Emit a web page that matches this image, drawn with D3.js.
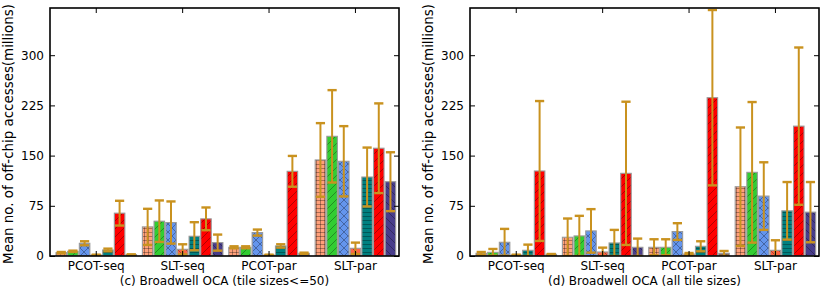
<!DOCTYPE html>
<html>
<head>
<meta charset="utf-8">
<script src="https://cdn.jsdelivr.net/npm/d3@7"></script>
<style>
  html, body { margin: 0; padding: 0; background: #fff; }
  svg { display: block; font-family: 'DejaVu Sans', sans-serif; }
</style>
</head>
<body>
<div id="chart"></div>
<script>
// groups on the x axis and the 7 bar series inside each group
const groups = ['PCOT-seq', 'SLT-seq', 'PCOT-par', 'SLT-par'];
const seriesColors = ['#FFA07A', '#32CD32', '#6495ED', '#FF6347', '#008080', '#FF0000', '#483D8B'];
const seriesHatch = ['+', '/', 'x', '\\', '-', '/', '\\'];
const yTicks = [0, 75, 150, 225, 300];

// (c) tile sizes <= 50 : mean and std per group (7 series each)
const meanC = [
  [5, 7, 19, 1.5, 9, 64, 2],
  [43.5, 52, 50, 10, 29.5, 55.5, 20],
  [13, 13, 35, 1.5, 15, 126.5, 4],
  [143.5, 178.8, 141.5, 11.5, 118, 161, 111],
];
const stdC = [
  [1, 1, 3, 0.5, 2, 18.5, 0.5],
  [27, 31, 31.5, 7.5, 21, 17, 12],
  [1.5, 1.5, 4.5, 0.5, 2.5, 23, 1],
  [55, 69, 52.5, 8.5, 44, 67, 44],
];

// (d) all tile sizes
const meanD = [
  [4, 5.5, 20.5, 1.5, 8.5, 127, 2.5],
  [28, 30, 37.5, 6, 19.5, 123.5, 13],
  [13, 13, 36.5, 3, 14.5, 236.5, 4],
  [103.5, 125, 89.5, 8.5, 67.5, 194, 65.5],
];
const stdD = [
  [2, 5, 20, 0.5, 8.5, 104.5, 0.5],
  [28, 30, 32.5, 6.5, 19.5, 107, 13],
  [12, 12, 12.5, 1.5, 7.5, 131, 3.5],
  [88.5, 105, 50.5, 15, 43, 117.5, 45],
];

const W = 820, H = 288;
const errColor = '#C9921F';

const svg = d3.select('#chart').append('svg')
  .attr('width', W).attr('height', H);

const defs = svg.append('defs');

// hatch patterns, one per series
const hatchPaths = {
  '/': { size: 8, d: 'M-2,2 l4,-4 M0,8 l8,-8 M6,10 l4,-4' },
  '\\': { size: 8, d: 'M-2,6 l4,4 M0,0 l8,8 M6,-2 l4,4' },
  'x': { size: 8, d: 'M-2,2 l4,-4 M0,8 l8,-8 M6,10 l4,-4 M-2,6 l4,4 M0,0 l8,8 M6,-2 l4,4' },
  '+': { size: 4, d: 'M0,0.5 H4 M0.5,0 V4' },
  '-': { size: 4, d: 'M0,0.5 H4' },
};
seriesColors.forEach((c, i) => {
  const h = hatchPaths[seriesHatch[i]];
  const p = defs.append('pattern')
    .attr('id', 'hatch' + i)
    .attr('patternUnits', 'userSpaceOnUse')
    .attr('width', h.size).attr('height', h.size);
  p.append('rect').attr('width', h.size).attr('height', h.size).attr('fill', c);
  p.append('path').attr('d', h.d)
    .attr('stroke', '#000').attr('stroke-opacity', 0.45)
    .attr('stroke-width', 0.7).attr('fill', 'none');
});

function panel(x0, means, stds, caption, idx) {
  const top = 8, bottom = 256, width = 349;

  const y = d3.scaleLinear().domain([0, 370.5]).range([bottom, top]);
  const x = d3.scaleBand().domain(groups)
    .range([x0 + 6, x0 + 6 + 3 * 86.4 + 80.5])
    .paddingInner(0.068).paddingOuter(0);
  const xs = d3.scaleBand().domain(d3.range(7))
    .range([0, x.bandwidth()]).paddingInner(0.1).paddingOuter(0);

  const g = svg.append('g');

  defs.append('clipPath').attr('id', 'clip' + idx)
    .append('rect').attr('x', x0).attr('y', top)
    .attr('width', width).attr('height', bottom - top);

  const plot = g.append('g').attr('clip-path', `url(#clip${idx})`);

  const rows = [];
  groups.forEach((grp, gi) => {
    means[gi].forEach((m, si) => rows.push({ grp, si, m, s: stds[gi][si] }));
  });

  // bars
  plot.selectAll('.bar')
    .data(rows)
    .join('rect')
    .attr('class', 'bar')
    .attr('x', d => x(d.grp) + xs(d.si))
    .attr('y', d => y(d.m))
    .attr('width', xs.bandwidth())
    .attr('height', d => y(0) - y(d.m))
    .attr('fill', d => `url(#hatch${d.si})`)
    .attr('stroke', '#9a9a9a')
    .attr('stroke-width', 1.1);

  // error bars
  const eb = plot.selectAll('.err')
    .data(rows)
    .join('g')
    .attr('class', 'err')
    .attr('stroke', errColor)
    .attr('fill', 'none');
  const cx = d => x(d.grp) + xs(d.si) + xs.bandwidth() / 2;
  eb.append('line')
    .attr('x1', cx).attr('x2', cx)
    .attr('y1', d => y(d.m - d.s)).attr('y2', d => y(d.m + d.s))
    .attr('stroke-width', 2);
  [1, -1].forEach(sign => {
    eb.append('line')
      .attr('x1', d => cx(d) - 4.6).attr('x2', d => cx(d) + 4.6)
      .attr('y1', d => y(d.m + sign * d.s)).attr('y2', d => y(d.m + sign * d.s))
      .attr('stroke-width', 2.4);
  });

  // axes: ticks pointing inward on all four sides
  const axL = g.append('g').attr('transform', `translate(${x0},0)`)
    .call(d3.axisLeft(y).tickValues(yTicks).tickSize(-5).tickPadding(6));
  const axR = g.append('g').attr('transform', `translate(${x0 + width},0)`)
    .call(d3.axisRight(y).tickValues(yTicks).tickSize(-5).tickFormat(''));
  const axB = g.append('g').attr('transform', `translate(0,${bottom})`)
    .call(d3.axisBottom(x).tickSize(-5).tickPadding(5));
  const axT = g.append('g').attr('transform', `translate(0,${top})`)
    .call(d3.axisTop(x).tickSize(-5).tickFormat(''));

  [axL, axR, axB, axT].forEach(a => {
    a.select('.domain').remove();
    a.selectAll('line').attr('stroke', '#000').attr('stroke-width', 1);
    a.selectAll('text').attr('font-family', "'DejaVu Sans', sans-serif")
      .attr('font-size', 12).attr('fill', '#000');
  });

  g.append('rect')
    .attr('x', x0).attr('y', top)
    .attr('width', width).attr('height', bottom - top)
    .attr('fill', 'none').attr('stroke', '#000').attr('stroke-width', 1.6);

  // y label
  g.append('text')
    .attr('transform', `translate(${x0 - 37},${(top + bottom) / 2 + 2}) rotate(-90)`)
    .attr('text-anchor', 'middle')
    .attr('font-size', 13.4)
    .text('Mean no. of off-chip accesses(millions)');

  // caption
  g.append('text')
    .attr('x', x0 + width / 2).attr('y', 285)
    .attr('text-anchor', 'middle')
    .attr('font-size', 12)
    .text(caption);
}

panel(50, meanC, stdC, '(c) Broadwell OCA (tile sizes<=50)', 0);
panel(470, meanD, stdD, '(d) Broadwell OCA (all tile sizes)', 1);
</script>
</body>
</html>
